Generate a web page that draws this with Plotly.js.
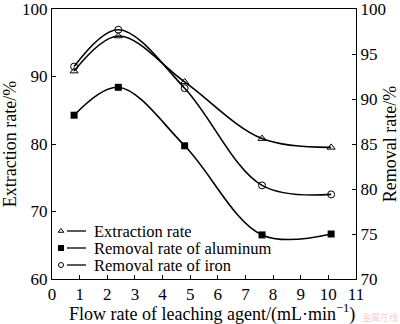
<!DOCTYPE html>
<html><head><meta charset="utf-8">
<script src="https://cdn.plot.ly/plotly-3.0.1.min.js"></script>
<style>html,body{margin:0;padding:0;background:#fff}#chart{width:400px;height:324px}</style>
</head><body><div id="chart"></div>
<script>
const flowRate = [0.8, 2.4, 4.8, 7.6, 10.1];
const extractionRate = [90.8, 96.0, 89.2, 80.8, 79.5];
const removalAluminum = [88.2, 91.3, 84.8, 74.9, 75.0];
const removalIron = [93.6, 97.7, 91.2, 80.4, 79.4];
const names = ["Extraction rate", "Removal rate of aluminum", "Removal rate of iron"];
const xTitle = 'Flow rate of leaching agent/(mL·min<sup>−1</sup>)';
const yTitle = 'Extraction rate/%';
const y2Title = 'Removal rate/%';

const FF = 'Liberation Serif, Times New Roman, serif';
const W = 400, H = 324;
const M = {l: 52, r: 44, t: 9, b: 45};
const PW = W - M.l - M.r, PH = H - M.t - M.b;
const fx = px => (px - M.l) / PW;          // pixel -> plot fraction
const fy = py => (H - M.b - py) / PH;

const markers = [
  {symbol: 'triangle-up-open', size: 7, color: '#000', line: {width: 1, color: '#000'}},
  {symbol: 'square', size: 7, color: '#000', line: {width: 0}},
  {symbol: 'circle-open', size: 7, color: '#000', line: {width: 1, color: '#000'}}
];
const line = {color: '#000', width: 1.6, shape: 'spline', smoothing: 1.0};
const traces = [
  {x: flowRate, y: extractionRate, name: names[0], mode: 'lines+markers', yaxis: 'y', line: line, marker: markers[0]},
  {x: flowRate, y: removalAluminum, name: names[1], mode: 'lines+markers', yaxis: 'y2', line: line, marker: markers[1]},
  {x: flowRate, y: removalIron, name: names[2], mode: 'lines+markers', yaxis: 'y2', line: line, marker: markers[2]}
];

// hand-placed legend (marker, short line, label) like the original figure
const legRows = [231, 248, 265];
const legMarkerX = 61, legLineX0 = 67, legLineX1 = 86, legTextX = 92;
const legSmall = [
  {symbol: 'triangle-up-open', size: 5, color: '#000', line: {width: 1, color: '#000'}},
  {symbol: 'square', size: 6, color: '#000', line: {width: 0}},
  {symbol: 'circle-open', size: 5, color: '#000', line: {width: 1, color: '#000'}}
];
legRows.forEach((ry, i) => {
  traces.push({x: [fx(legMarkerX)], y: [fy(ry)], xaxis: 'x2', yaxis: 'y3', mode: 'markers', marker: legSmall[i], showlegend: false, hoverinfo: 'skip', cliponaxis: false});
  traces.push({x: [fx(legLineX0), fx(legLineX1)], y: [fy(ry), fy(ry)], xaxis: 'x2', yaxis: 'y3', mode: 'lines', line: {color: '#000', width: 1.3}, showlegend: false, hoverinfo: 'skip'});
});
const annotations = legRows.map((ry, i) => ({
  xref: 'paper', yref: 'paper', x: fx(legTextX), y: fy(ry), text: names[i], showarrow: false,
  xanchor: 'left', yanchor: 'middle', height: 15, valign: 'middle', font: {family: FF, size: 16.5, color: '#000'}
}));
// x-axis title (slightly right of centre, as in the original)
annotations.push({xref: 'paper', yref: 'paper', x: fx(212), y: fy(313), xanchor: 'center', yanchor: 'middle',
  text: xTitle, showarrow: false, font: {family: FF, size: 18, color: '#000'}});
annotations.push({xref: 'paper', yref: 'paper', x: fx(400), y: fy(317), xanchor: 'right', yanchor: 'middle',
  text: '金属在线', showarrow: false, font: {family: 'Noto Sans CJK SC', size: 9, color: 'rgba(235,140,140,0.45)'}});

const axBase = {ticks: 'inside', ticklen: 4, tickcolor: '#000', tickwidth: 1, showline: true, linecolor: '#000', linewidth: 1,
  showgrid: false, zeroline: false, ticklabeloverflow: 'allow', tickfont: {family: FF, size: 17, color: '#000'}};
const layout = {
  width: W, height: H,
  margin: M,
  paper_bgcolor: '#fff', plot_bgcolor: '#fff',
  font: {family: FF, size: 17, color: '#000'},
  showlegend: false,
  annotations: annotations,
  xaxis: Object.assign({}, axBase, {range: [0, 11], dtick: 1, tick0: 0, mirror: true}),
  yaxis: Object.assign({}, axBase, {range: [60, 100], dtick: 10,
          title: {text: yTitle, font: {family: FF, size: 18}, standoff: 4}}),
  yaxis2: Object.assign({}, axBase, {range: [70, 100], dtick: 5, overlaying: 'y', side: 'right',
          title: {text: y2Title, font: {family: FF, size: 18}, standoff: 4}}),
  xaxis2: {range: [0, 1], overlaying: 'x', visible: false, fixedrange: true},
  yaxis3: {range: [0, 1], overlaying: 'y', visible: false, fixedrange: true}
};
Plotly.newPlot('chart', traces, layout, {displayModeBar: false, staticPlot: true});
</script></body></html>
